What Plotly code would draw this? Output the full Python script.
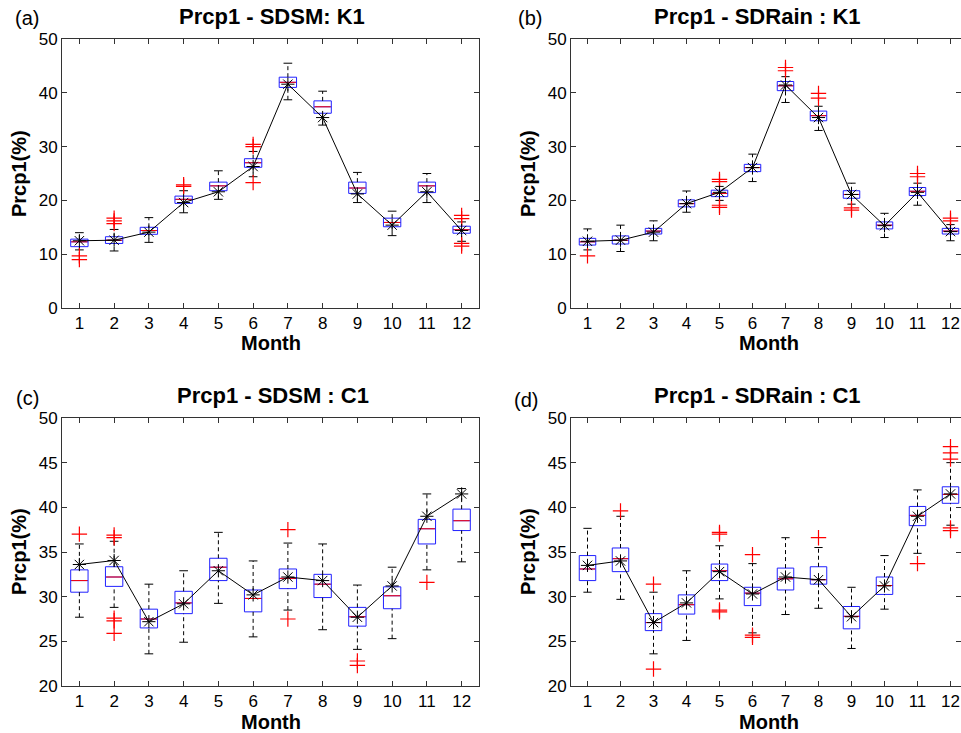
import plotly.graph_objects as go

W, H = 961, 733
months = list(range(1, 13))
month_labels = [str(m) for m in months]

# ---- Panel (a): Prcp1 - SDSM: K1
a_q1 = [11.4, 12.0, 13.7, 19.45, 21.8, 26.15, 41.0, 36.2, 21.3, 15.1, 21.45, 13.9]
a_med = [12.3, 12.6, 14.4, 20.2, 22.7, 27.0, 41.95, 37.4, 22.3, 15.9, 22.7, 14.55]
a_q3 = [12.8, 13.25, 15.0, 20.8, 23.4, 27.75, 42.9, 38.5, 23.4, 16.7, 23.4, 15.2]
a_lo = [10.8, 10.6, 12.2, 17.7, 20.2, 24.4, 38.7, 34.0, 19.6, 13.45, 19.6, 12.4]
a_hi = [14.0, 14.6, 16.8, 21.8, 25.5, 29.1, 45.5, 40.3, 25.2, 18.0, 25.0, 16.0]
a_mean = [12.5, 12.6, 14.1, 19.6, 21.6, 26.3, 41.6, 35.4, 21.2, 15.4, 21.6, 14.4]
a_out = [[9.0, 9.7], [15.7, 16.2, 16.7], [], [22.6, 22.9], [], [23.3, 30.0, 30.4],
         [], [], [], [], [], [12.0, 11.5, 16.6, 17.2]]

# ---- Panel (b): Prcp1 - SDRain : K1
b_q1 = [11.7, 11.9, 13.75, 18.8, 20.7, 25.35, 40.4, 34.8, 20.4, 14.7, 20.9, 13.75]
b_med = [12.3, 12.6, 14.3, 19.4, 21.3, 26.1, 41.3, 35.75, 21.1, 15.4, 21.7, 14.3]
b_q3 = [12.95, 13.4, 14.8, 20.1, 21.9, 26.7, 42.1, 36.6, 21.8, 16.0, 22.4, 14.8]
b_lo = [10.8, 10.5, 12.5, 17.8, 20.0, 23.5, 38.2, 33.0, 19.3, 13.1, 19.1, 12.5]
b_hi = [14.7, 15.4, 16.2, 21.75, 22.6, 28.6, 43.0, 37.5, 23.2, 17.6, 23.2, 15.5]
b_mean = [12.4, 12.6, 14.1, 19.4, 21.5, 26.1, 41.45, 35.4, 21.1, 15.3, 21.5, 14.2]
b_out = [[9.7], [], [], [], [23.5, 23.9, 19.1, 18.7], [], [44.1, 44.7], [39.0, 39.9],
         [18.2, 18.6], [], [24.4, 25.0], [16.2, 16.7]]

# ---- Panel (c): Prcp1 - SDSM : C1
c_q1 = [30.5, 31.15, 26.5, 28.1, 31.8, 28.3, 30.9, 29.9, 26.7, 28.65, 35.9, 37.4]
c_med = [31.8, 32.2, 27.5, 29.3, 33.3, 29.8, 32.05, 31.4, 27.75, 30.1, 37.6, 38.5]
c_q3 = [33.0, 33.35, 28.6, 30.6, 34.3, 30.75, 33.1, 32.5, 28.8, 31.1, 38.65, 39.8]
c_lo = [27.7, 28.8, 23.6, 24.9, 29.25, 25.5, 28.5, 26.3, 24.1, 25.3, 33.0, 33.9]
c_hi = [35.9, 36.2, 31.4, 32.9, 37.2, 34.0, 36.0, 35.9, 31.3, 33.3, 41.5, 42.1]
c_mean = [33.6, 34.05, 27.2, 29.2, 32.9, 30.2, 32.2, 31.8, 27.7, 31.2, 39.0, 41.5]
c_out = [[37.0], [36.6, 36.9, 27.3, 27.6, 25.9], [], [], [], [], [37.5, 27.5], [],
         [22.3, 22.8], [], [31.6], []]

# ---- Panel (d): Prcp1 - SDRain : C1
d_q1 = [31.8, 32.8, 26.2, 28.05, 31.8, 29.0, 30.75, 31.4, 26.4, 30.25, 37.95, 40.45]
d_med = [33.1, 34.25, 27.1, 29.1, 32.9, 30.4, 32.0, 31.9, 27.8, 31.25, 39.1, 41.45]
d_q3 = [34.6, 35.45, 28.1, 30.2, 33.65, 31.05, 33.2, 33.35, 28.9, 32.2, 40.1, 42.3]
d_lo = [30.5, 29.7, 23.6, 25.1, 29.75, 25.95, 28.0, 28.7, 24.2, 28.6, 34.85, 38.0]
d_hi = [37.65, 39.0, 30.5, 32.9, 35.7, 33.7, 36.6, 35.5, 31.05, 34.6, 41.95, 45.0]
d_mean = [33.5, 34.0, 27.1, 29.3, 32.8, 30.3, 32.2, 31.9, 27.75, 31.2, 39.0, 41.5]
d_out = [[], [39.6], [31.4, 21.9], [], [37.0, 37.2, 28.3, 28.5], [34.7, 25.45, 25.7], [],
         [36.6], [], [], [33.7], [45.4, 46.1, 46.8, 37.4, 37.7]]

titles = ["Prcp1 - SDSM: K1", "Prcp1 - SDRain : K1", "Prcp1 - SDSM : C1", "Prcp1 - SDRain : C1"]
panel_tags = ["(a)", "(b)", "(c)", "(d)"]
y_label = "Prcp1(%)"
x_label = "Month"

panels = [
    (a_q1, a_med, a_q3, a_lo, a_hi, a_mean, a_out),
    (b_q1, b_med, b_q3, b_lo, b_hi, b_mean, b_out),
    (c_q1, c_med, c_q3, c_lo, c_hi, c_mean, c_out),
    (d_q1, d_med, d_q3, d_lo, d_hi, d_mean, d_out),
]

FONT = "Liberation Sans, Arial, sans-serif"
BOXW = 0.5
CAPW = 0.25

fig = go.Figure()
for i, (q1, med, q3, lo, hi, mean, outs) in enumerate(panels):
    xa = "x" if i == 0 else f"x{i+1}"
    ya = "y" if i == 0 else f"y{i+1}"
    # whiskers (dashed)
    wx, wy = [], []
    for m, a, b, c, d in zip(months, lo, q1, q3, hi):
        wx += [m, m, None, m, m, None]
        wy += [a, b, None, c, d, None]
    fig.add_trace(go.Scatter(x=wx, y=wy, mode="lines", xaxis=xa, yaxis=ya,
                             line=dict(color="black", width=1, dash="4px,3px"),
                             hoverinfo="skip", showlegend=False))
    # caps
    cx, cy = [], []
    for m, a, d in zip(months, lo, hi):
        cx += [m - CAPW / 2, m + CAPW / 2, None, m - CAPW / 2, m + CAPW / 2, None]
        cy += [a, a, None, d, d, None]
    fig.add_trace(go.Scatter(x=cx, y=cy, mode="lines", xaxis=xa, yaxis=ya,
                             line=dict(color="black", width=1),
                             hoverinfo="skip", showlegend=False))
    # boxes
    fig.add_trace(go.Box(x=months, q1=q1, median=med, q3=q3, lowerfence=q1, upperfence=q3,
                         width=BOXW, whiskerwidth=0, boxpoints=False,
                         line=dict(color="#2020ff", width=1), fillcolor="rgba(0,0,0,0)",
                         xaxis=xa, yaxis=ya, showlegend=False))
    # medians (red)
    mx, my = [], []
    for m, v in zip(months, med):
        mx += [m - BOXW / 2 + 0.02, m + BOXW / 2 - 0.02, None]
        my += [v, v, None]
    fig.add_trace(go.Scatter(x=mx, y=my, mode="lines", xaxis=xa, yaxis=ya,
                             line=dict(color="red", width=1),
                             hoverinfo="skip", showlegend=False))
    # outliers
    ox, oy = [], []
    for m, vals in zip(months, outs):
        for v in vals:
            ox.append(m)
            oy.append(v)
    fig.add_trace(go.Scatter(x=ox, y=oy, mode="markers", xaxis=xa, yaxis=ya,
                             marker=dict(symbol="cross-thin-open", size=11, color="red",
                                         line=dict(color="red", width=1.2)),
                             showlegend=False))
    # observed mean line
    fig.add_trace(go.Scatter(x=months, y=mean, mode="lines+markers", xaxis=xa, yaxis=ya,
                             line=dict(color="black", width=1),
                             marker=dict(symbol="asterisk-open", size=11, color="black",
                                         line=dict(color="black", width=1)),
                             showlegend=False))


def fx(p):
    return p / W


def fy(p):
    return 1 - p / H


axis_common = dict(showline=True, mirror="ticks", linecolor="#333", linewidth=1,
                   ticks="inside", ticklen=5, tickcolor="#333", showgrid=False,
                   zeroline=False, automargin=False,
                   tickfont=dict(family=FONT, size=17, color="black"))

left_dom = [fx(62), fx(479)]
right_dom = [fx(571), 1.0]
right_range = [0.5, 0.5 + (W - 571) / 33.0]
top_dom = [fy(308), fy(39)]
bot_dom = [fy(686), fy(418)]

xkw = dict(tickmode="array", tickvals=months, ticktext=month_labels, **axis_common)
fig.update_layout(
    template="none",
    width=W, height=H, margin=dict(l=0, r=0, t=0, b=0, pad=0, autoexpand=False),
    paper_bgcolor="white", plot_bgcolor="white", showlegend=False,
    xaxis=dict(domain=left_dom, range=[0.5, 12.5], anchor="y", **xkw),
    yaxis=dict(domain=top_dom, range=[0, 50], tickvals=[0, 10, 20, 30, 40, 50], anchor="x", **axis_common),
    xaxis2=dict(domain=right_dom, range=right_range, anchor="y2", **xkw),
    yaxis2=dict(domain=top_dom, range=[0, 50], tickvals=[0, 10, 20, 30, 40, 50], anchor="x2", **axis_common),
    xaxis3=dict(domain=left_dom, range=[0.5, 12.5], anchor="y3", **xkw),
    yaxis3=dict(domain=bot_dom, range=[20, 50], tickvals=[20, 25, 30, 35, 40, 45, 50], anchor="x3", **axis_common),
    xaxis4=dict(domain=right_dom, range=right_range, anchor="y4", **xkw),
    yaxis4=dict(domain=bot_dom, range=[20, 50], tickvals=[20, 25, 30, 35, 40, 45, 50], anchor="x4", **axis_common),
    boxmode="overlay",
)

ann = []
title_pos = [(272, 16), (757, 16), (273, 395), (757, 395)]
tag_pos = [(27, 18), (530, 18), (27, 398), (526, 400)]
ylab_pos = [(19, 174), (528, 174), (19, 552), (528, 552)]
xlab_pos = [(271, 343), (769, 343), (271, 722), (769, 722)]
for i in range(4):
    ann.append(dict(text=f"<b>{titles[i]}</b>", x=fx(title_pos[i][0]), y=fy(title_pos[i][1]),
                    xref="paper", yref="paper", showarrow=False, xanchor="center", yanchor="middle",
                    font=dict(family=FONT, size=22, color="black")))
    ann.append(dict(text=panel_tags[i], x=fx(tag_pos[i][0]), y=fy(tag_pos[i][1]),
                    xref="paper", yref="paper", showarrow=False, xanchor="center", yanchor="middle",
                    font=dict(family=FONT, size=20, color="black")))
    ann.append(dict(text=f"<b>{y_label}</b>", x=fx(ylab_pos[i][0]), y=fy(ylab_pos[i][1]),
                    xref="paper", yref="paper", showarrow=False, xanchor="center", yanchor="middle",
                    textangle=-90, font=dict(family=FONT, size=20, color="black")))
    ann.append(dict(text=f"<b>{x_label}</b>", x=fx(xlab_pos[i][0]), y=fy(xlab_pos[i][1]),
                    xref="paper", yref="paper", showarrow=False, xanchor="center", yanchor="middle",
                    font=dict(family=FONT, size=20, color="black")))
fig.update_layout(annotations=ann)

fig.write_html("out.html", config={"displayModeBar": False},
               post_script="document.body.style.margin='0px';document.body.style.padding='0px';"
                           "document.body.style.overflow='hidden';")
